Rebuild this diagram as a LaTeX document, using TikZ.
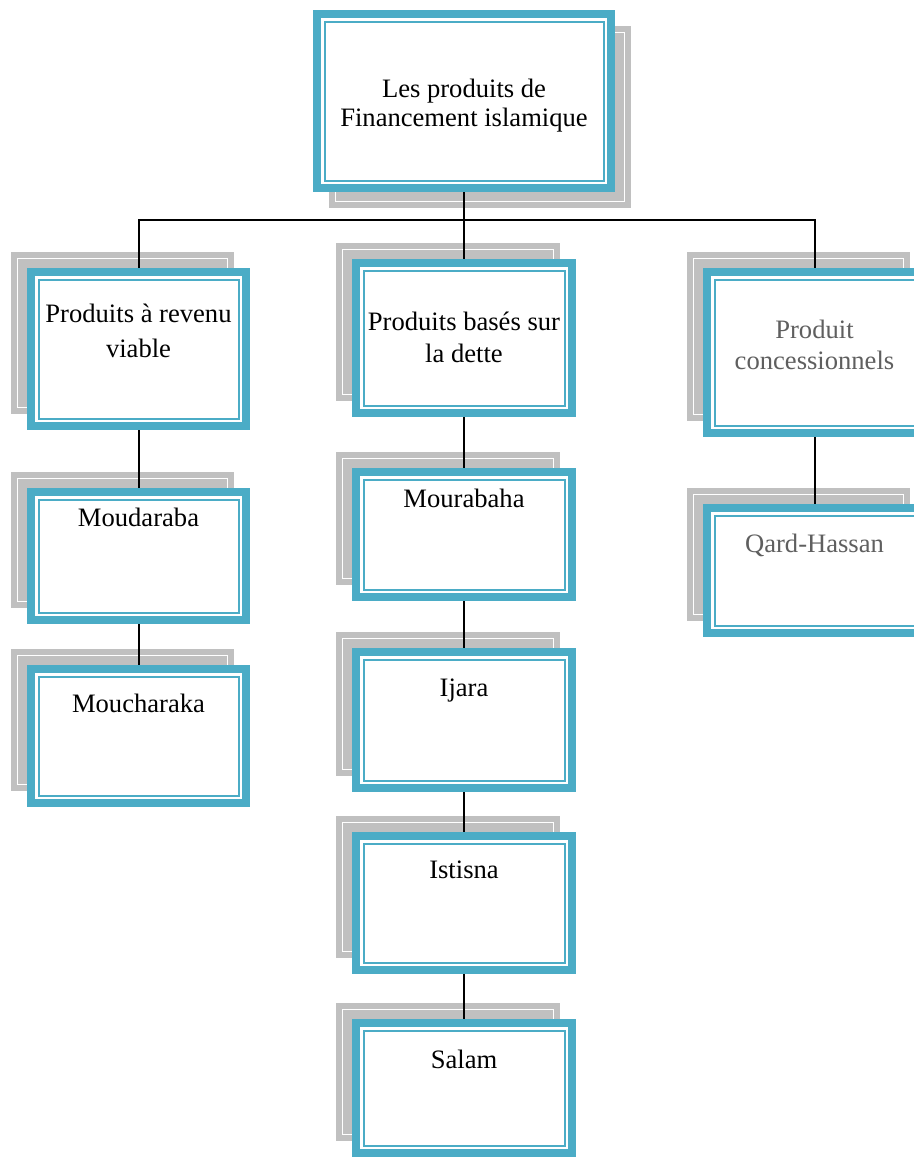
\documentclass[tikz,border=0pt]{standalone}
\usepackage{fontspec}
\setmainfont{Liberation Serif}
\definecolor{boxteal}{HTML}{4BACC6}
\definecolor{shadowgray}{HTML}{C0C0C0}
\definecolor{softtext}{HTML}{5F5F5F}
\pgfdeclarelayer{shadows}
\pgfdeclarelayer{links}
\pgfsetlayers{shadows,links,main}
\tikzset{
  front/.style={draw=boxteal, line width=4pt, fill=white, inner sep=0pt, outer sep=0pt},
  innerline/.style={draw=boxteal, line width=1pt},
  backplate/.style={fill=shadowgray},
  backline/.style={draw=white, line width=0.5pt},
  link/.style={draw=black, line width=1pt},
  lbl/.style={anchor=base, inner sep=0pt, font=\fontsize{13.3}{16}\selectfont},
  softlbl/.style={lbl, text=softtext},
}
% #1 name, #2..#5 outer corners (x1,y1,x2,y2), #6,#7 offset of the grey backing plate
\newcommand{\cardbox}[7]{%
  \begin{pgfonlayer}{shadows}
    \fill[backplate] ({#2+#6},{#3+#7}) rectangle ({#4+#6},{#5+#7});
    \draw[backline] ({#2+#6+6.5},{#3+#7+6.5}) rectangle ({#4+#6-6.5},{#5+#7-6.5});
  \end{pgfonlayer}
  \node[front, minimum width={(#4-#2-8)*0.5pt}, minimum height={(#5-#3-8)*0.5pt}]
    (#1) at ({(#2+#4)/2},{(#3+#5)/2}) {};
  \draw[innerline] ({#2+11.5},{#3+11.5}) rectangle ({#4-11.5},{#5-11.5});
}
\begin{document}
\begin{tikzpicture}[x=0.5pt, y=-0.5pt]
  \useasboundingbox (0,0) rectangle (914,1158);

  % root
  \cardbox{top}{313}{10}{615}{192}{16}{16}
  % three families
  \cardbox{rev}{27}{268}{250}{430}{-16}{-16}
  \cardbox{dette}{352}{259}{576}{417}{-16}{-16}
  \cardbox{conc}{703}{268}{926}{437}{-16}{-16}
  % left column
  \cardbox{moud}{27}{488}{250}{624}{-16}{-16}
  \cardbox{mouch}{27}{665}{250}{807}{-16}{-16}
  % middle column
  \cardbox{mour}{352}{468}{576}{601}{-16}{-16}
  \cardbox{ijara}{352}{648}{576}{792}{-16}{-16}
  \cardbox{istisna}{352}{832}{576}{974}{-16}{-16}
  \cardbox{salam}{352}{1019}{576}{1157}{-16}{-16}
  % right column
  \cardbox{qard}{703}{504}{926}{637}{-16}{-16}

  % labels
  \node[lbl] (topA) at (464,97) {Les produits de};
  \node[lbl] (topB) at (464,126) {Financement islamique};
  \node[lbl] (revA) at (138.5,322) {Produits à revenu};
  \node[lbl] (revB) at (138.5,357) {viable};
  \node[lbl] (detteA) at (464,330) {Produits basés sur};
  \node[lbl] (detteB) at (464,362) {la dette};
  \node[softlbl] (concA) at (814.5,338) {Produit};
  \node[softlbl] (concB) at (814.5,369) {concessionnels};
  \node[lbl] (moudT) at (138.5,526) {Moudaraba};
  \node[lbl] (mouchT) at (138.5,712) {Moucharaka};
  \node[lbl] (mourT) at (464,507) {Mourabaha};
  \node[lbl] (ijaraT) at (464,696) {Ijara};
  \node[lbl] (istisnaT) at (464,878) {Istisna};
  \node[lbl] (salamT) at (464,1068) {Salam};
  \node[softlbl] (qardT) at (814.5,552) {Qard-Hassan};

  % connectors
  \coordinate (bus) at (464,220);
  \begin{pgfonlayer}{links}
    \draw[link] (top.south) -- (dette.north);
    \draw[link] (rev.north) |- (bus) -| (conc.north);
    \draw[link] (rev.south) -- (moud.north);
    \draw[link] (moud.south) -- (mouch.north);
    \draw[link] (dette.south) -- (mour.north);
    \draw[link] (mour.south) -- (ijara.north);
    \draw[link] (ijara.south) -- (istisna.north);
    \draw[link] (istisna.south) -- (salam.north);
    \draw[link] (conc.south) -- (qard.north);
  \end{pgfonlayer}
\end{tikzpicture}
\end{document}
